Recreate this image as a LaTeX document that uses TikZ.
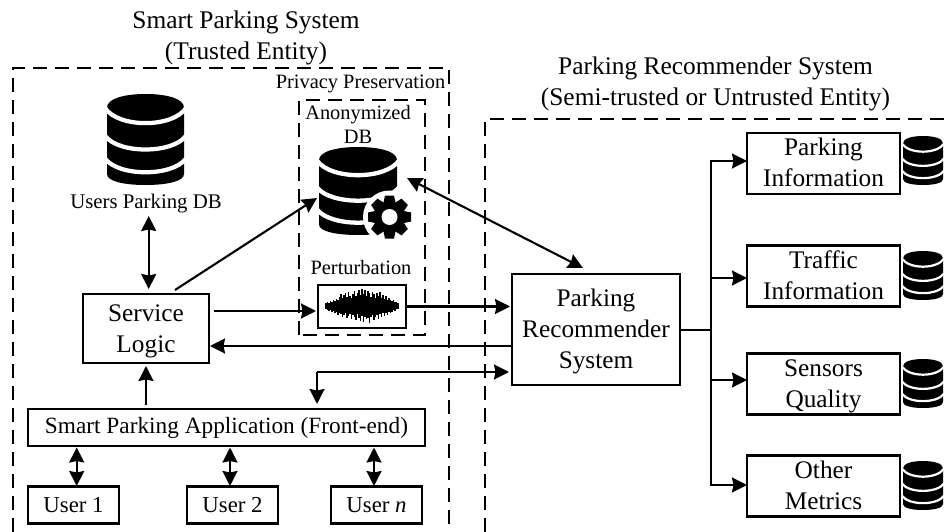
\documentclass[tikz,border=0pt]{standalone}
\usepackage{fontspec}
\setmainfont{Liberation Serif}
\usetikzlibrary{arrows.meta}
\newcommand{\lift}[1]{\rule{0pt}{#1pt}}
\newcommand{\drop}[1]{\rule[-#1pt]{0pt}{0pt}}
\tikzset{
  x=1pt,y=-1pt,
  boxn/.style={draw,line width=2.1pt,align=center,inner sep=0pt,font=\fontsize{25.3}{31}\selectfont},
  userbox/.style={draw,line width=2.1pt,align=center,inner sep=0pt,font=\fontsize{22.8}{27}\selectfont,minimum width=91pt,minimum height=37pt},
  infobox/.style={boxn,minimum width=153pt,minimum height=61pt},
  lab/.style={align=center,inner sep=0pt,font=\fontsize{25.4}{31}\selectfont},
  smalllab/.style={align=center,inner sep=0pt,font=\fontsize{20.4}{24}\selectfont},
  dashbox/.style={line width=2pt,dash pattern=on 14pt off 8pt},
  tip/.tip={Stealth[length=15pt,width=15pt,inset=1.5pt]},
  conn/.style={line width=2.1pt,-tip},
  conn2/.style={line width=2.1pt,tip-tip},
  plain/.style={line width=2.1pt},
}
% \dbicon{cx}{top}{w}{h}
\newcommand{\dbicon}[4]{%
  \begin{scope}[shift={(#1,#2)},x=#3pt/2,y=-#4pt]
    \fill[black] (-1,.15) .. controls (-1,.05) and (-.55,0) .. (0,0) .. controls (.55,0) and (1,.05) .. (1,.15)
      -- (1,.88) .. controls (1,.96) and (.55,1) .. (0,1) .. controls (-.55,1) and (-1,.96) .. (-1,.88) -- cycle;
    \foreach \s/\m in {.155/.375,.46/.66,.71/.91}{
      \draw[white,line width=#3pt*.055] (-1.05,\s) .. controls (-.7,\m) and (.7,\m) .. (1.05,\s);
    }
  \end{scope}}
\begin{document}
\begin{tikzpicture}
\useasboundingbox (0,0) rectangle (945,532);
\fill[white] (0,0) rectangle (945,532);
% dashed regions
\draw[dashbox] (13,532) -- (13,68) -- (449,68) -- (449,532);
\draw[dashbox] (485,532) -- (485,119) -- (945,119);
\draw[dashbox] (299,335) -- (299,100) -- (425,100) -- (425,335) -- cycle;
% titles
\node[lab] (t1) at (246,37.5) {Smart Parking System\\(Trusted Entity)};
\node[lab] (t2) at (715.5,84) {Parking Recommender System\\(Semi-trusted or Untrusted Entity)};
\node[smalllab] (t3) at (360.5,84) {Privacy Preservation};
\node[smalllab] (t4) at (358,124) {Anonymized\\DB};
\node[font=\fontsize{20.8}{25}\selectfont,inner sep=0pt] (t5) at (146,204) {Users Parking DB};
\node[smalllab] (t6) at (361,268) {Perturbation};
% db icons
\dbicon{145.5}{94}{77}{91}
\dbicon{358}{147}{78}{88}
\dbicon{923}{136}{40}{49}
\dbicon{923}{251}{40}{49}
\dbicon{923}{359}{40}{49}
\dbicon{923}{461}{40}{49}
% gear
\begin{scope}[shift={(389.5,217)}]
  \fill[white] (0,0) circle (26.5);
  \foreach \a in {0,45,...,315}{
    \fill[black,rotate=\a] (-4.5,-21.5) -- (4.5,-21.5) -- (6.5,-12) -- (-6.5,-12) -- cycle;
  }
  \fill[black] (0,0) circle (15.5);
  \fill[white] (0,0) circle (8);
\end{scope}
% boxes
\node[boxn,minimum width=126pt,minimum height=69pt] (svc) at (146,328.5) {\lift{22}Service\\Logic};
\node[boxn,minimum width=168pt,minimum height=111pt] (prs) at (596,329.5) {\lift{22}Parking\\Recommender\\System};
\node[boxn,minimum width=397pt,minimum height=37pt,font=\fontsize{23.3}{28}\selectfont] (app) at (226.5,427.5) {Smart Parking Application (Front-end)};
\node[userbox] (u1) at (73.5,505) {User 1};
\node[userbox] (u2) at (232.5,505) {User 2};
\node[userbox] (un) at (376.5,505) {User \textit{n}};
\node[infobox] (r1) at (823.5,163.3) {Parking\\Information\drop{2}};
\node[infobox] (r2) at (823.5,276) {Traffic\\Information\drop{2}};
\node[infobox] (r3) at (823.5,384) {\lift{21}Sensors\\Quality};
\node[infobox] (r4) at (823.5,486) {Other\\Metrics\drop{2}};
\node[draw,line width=1.8pt,minimum width=88pt,minimum height=43pt,inner sep=0pt] (pert) at (362,306.5) {};
% waveform
\begin{scope}[shift={(326,306)}]
  \foreach \i/\up/\dn in {0/3/3,1.5/4/4,3/3/5,4.5/5/4,6/4/6,7.5/6/5,9/5/7,10.5/7/6,12/6/9,13.5/9/7,15/12/8,16.5/8/11,18/11/9,19.5/13/7,21/9/12,22.5/14/10,24/10/8,25.5/8/13,27/12/9,28.5/15/11,30/10/14,31.5/13/8,33/16/12,34.5/11/15,36/17/10,37.5/12/16,39/16/11,40.5/10/13,42/15/12,43.5/13/17,45/9/11,46.5/14/9,48/12/14,49.5/8/11,51/13/9,52.5/10/13,54/14/8,55.5/8/11,57/11/7,58.5/7/10,60/10/7,61.5/6/9,63/8/6,64.5/6/7,66/5/6,67.5/6/4,69/4/5,70.5/4/3,72/3/3}{
    \draw[line width=1.1pt] (\i,-\up) -- (\i,\dn);
  }
\end{scope}
% connectors
\coordinate (dbout) at (148.7,216);
\coordinate (svctop) at (148.7,289);
\coordinate (svcdiag) at (175,290);
\coordinate (anonin) at (317,198);
\coordinate (anonr) at (407,178);
\coordinate (prsin) at (583,268);
\draw[conn2] (dbout) -- (svctop);
\draw[conn] (svcdiag) -- (anonin);
\draw[conn2] (anonr) -- (prsin);
\draw[conn] (214,311) -- (316,311);
\draw[conn] (pert.east) -- (510,306.5);
\draw[conn] (512,346) -- (210,346);
\draw[conn] (146,405) -- (146,366);
\coordinate (fork) at (317,372);
\draw[conn] (fork) -- (509,372);
\draw[conn] (fork) -- (317,404);
\draw[conn2] (76.7,447.5) -- (76.7,486);
\draw[conn2] (230,447.5) -- (230,486);
\draw[conn2] (374,447.5) -- (374,486);
\coordinate (bus) at (711,330);
\draw[plain] (prs.east |- bus) -- (bus);
\draw[conn] (711,161) -- (747,161);
\draw[conn] (711,278) -- (747,278);
\draw[conn] (711,380) -- (747,380);
\draw[conn] (711,485) -- (747,485);
\draw[plain] (711,160) -- (711,486);
\end{tikzpicture}
\end{document}
